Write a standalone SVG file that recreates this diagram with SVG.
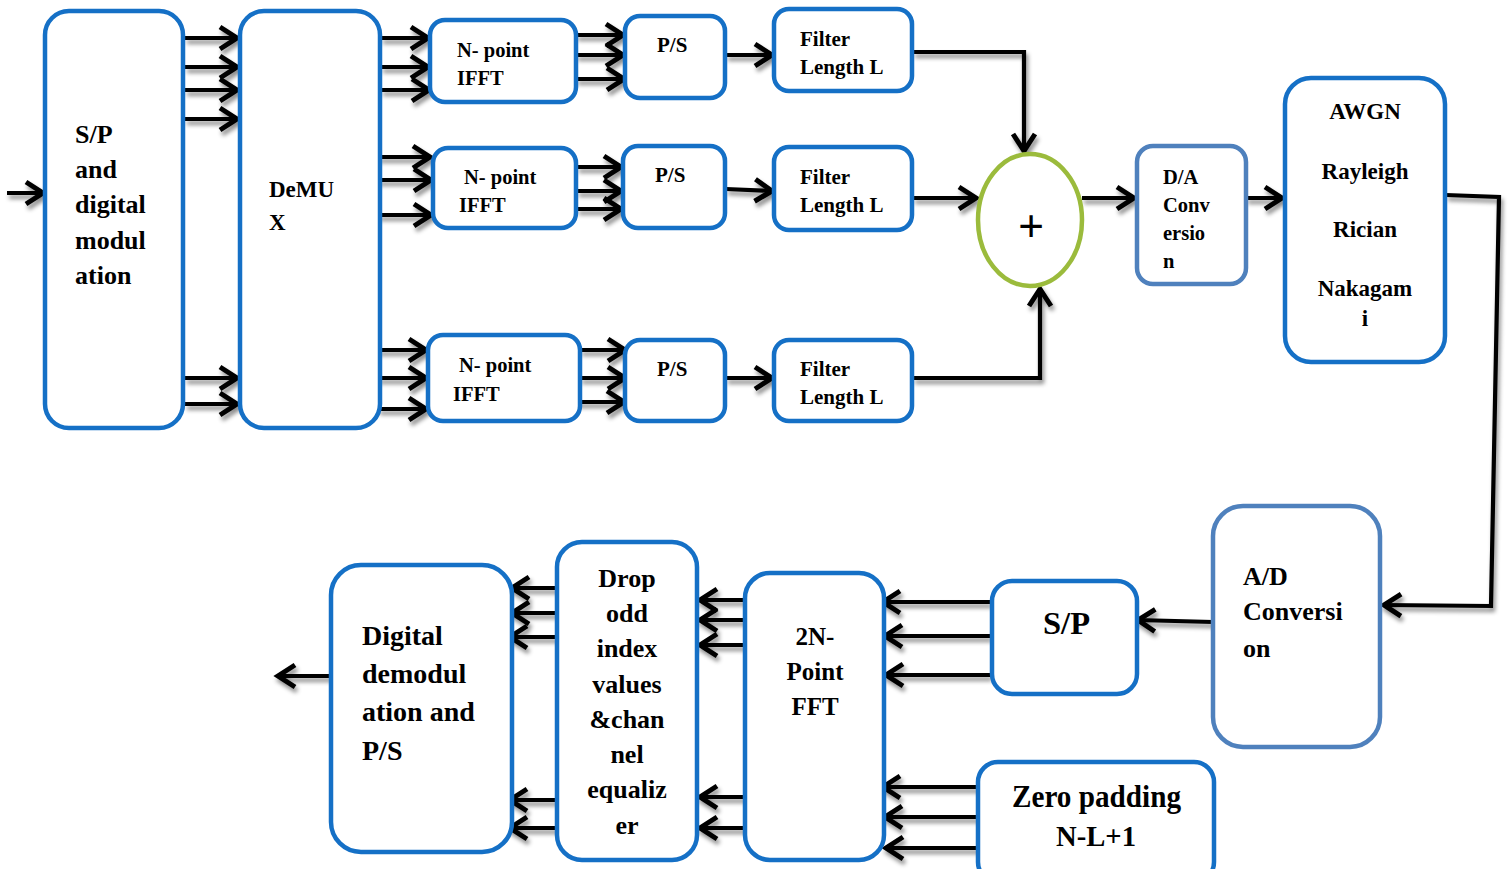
<svg xmlns="http://www.w3.org/2000/svg" width="1508" height="869" viewBox="0 0 1508 869">
<defs>
<style>
.b{fill:#fff;stroke:#1570c6;stroke-width:4.5}
.l{fill:#fff;stroke:#4f81bd;stroke-width:4.5}
.t{font-family:"Liberation Serif","Times New Roman",serif;font-weight:bold;fill:#000}
.c{fill:none;stroke:#000;stroke-width:4.2;marker-end:url(#a)}
</style>
<marker id="a" markerUnits="userSpaceOnUse" markerWidth="28" markerHeight="28" viewBox="-24 -14 28 28" refX="0" refY="0" orient="auto">
<path d="M-18,-11 L-1,0 L-18,11" fill="none" stroke="#000" stroke-width="5"/>
</marker>
<filter id="sh" x="-10%" y="-10%" width="120%" height="120%">
<feDropShadow dx="2" dy="4" stdDeviation="2" flood-color="#000" flood-opacity="0.45"/>
</filter>
</defs>
<rect width="1508" height="869" fill="#fff"/>

<g id="connectors" filter="url(#sh)">
<path class="c" d="M7,193 H44"/>
<path class="c" d="M185,38 H238"/>
<path class="c" d="M185,67 H238"/>
<path class="c" d="M185,90 H238"/>
<path class="c" d="M185,119 H238"/>
<path class="c" d="M185,378 H238"/>
<path class="c" d="M185,404 H238"/>
<path class="c" d="M381,38 H429"/>
<path class="c" d="M381,67 H429"/>
<path class="c" d="M381,90 H430"/>
<path class="c" d="M378,157 H431"/>
<path class="c" d="M378,180 H432"/>
<path class="c" d="M378,215 H432"/>
<path class="c" d="M378,350 H427"/>
<path class="c" d="M378,378 H427"/>
<path class="c" d="M378,409 H427"/>
<path class="c" d="M576,35 H624"/>
<path class="c" d="M576,55 H624"/>
<path class="c" d="M576,79 H625"/>
<path class="c" d="M577,167 H622"/>
<path class="c" d="M577,191 H622"/>
<path class="c" d="M577,209 H622"/>
<path class="c" d="M580,350 H626"/>
<path class="c" d="M580,378 H626"/>
<path class="c" d="M577,402 H625"/>
<path class="c" d="M726,55 H773"/>
<path class="c" d="M726,189 L773,191"/>
<path class="c" d="M726,378 H773"/>
<path class="c" d="M913,52 H1024 V152"/>
<path class="c" d="M913,198 H977"/>
<path class="c" d="M913,378 H1040 V288"/>
<path class="c" d="M1082,198 H1135"/>
<path class="c" d="M1246,198 H1283"/>
<path class="c" d="M1446,195 L1499,197 L1491,606 L1383,605"/>
<path class="c" d="M1213,622 L1137,620"/>
<path class="c" d="M990,602 H882"/>
<path class="c" d="M990,636 H884"/>
<path class="c" d="M990,675 H885"/>
<path class="c" d="M978,787 H882"/>
<path class="c" d="M978,817 H884"/>
<path class="c" d="M978,848 H885"/>
<path class="c" d="M745,600 H699"/>
<path class="c" d="M745,620 H699"/>
<path class="c" d="M745,645 H699"/>
<path class="c" d="M745,797 H699"/>
<path class="c" d="M745,828 H699"/>
<path class="c" d="M557,588 H511"/>
<path class="c" d="M557,613 H511"/>
<path class="c" d="M557,637 H509"/>
<path class="c" d="M557,800 H509"/>
<path class="c" d="M557,828 H509"/>
<path class="c" d="M331,676 H277"/>
</g>

<g id="sp_mod">
<rect class="b" x="45" y="11" width="138" height="417" rx="24"/>
<text class="t" font-size="26"><tspan x="75" y="143">S/P</tspan><tspan x="75" y="178">and</tspan><tspan x="75" y="213">digital</tspan><tspan x="75" y="249">modul</tspan><tspan x="75" y="284">ation</tspan></text>
</g>
<g id="demux">
<rect class="b" x="240" y="11" width="140" height="417" rx="24"/>
<text class="t" font-size="23"><tspan x="269" y="197">DeMU</tspan><tspan x="269" y="230">X</tspan></text>
</g>
<g id="ifft1">
<rect class="b" x="430" y="20" width="146" height="82" rx="15"/>
<text class="t" font-size="20.5"><tspan x="457" y="57">N- point</tspan><tspan x="457" y="85">IFFT</tspan></text>
</g>
<g id="ps1">
<rect class="b" x="625" y="16" width="100" height="82" rx="15"/>
<text class="t" font-size="21" x="657" y="52">P/S</text>
</g>
<g id="filter1">
<rect class="b" x="774" y="9" width="138" height="82" rx="15"/>
<text class="t" font-size="21"><tspan x="800" y="46">Filter</tspan><tspan x="800" y="74">Length L</tspan></text>
</g>
<g id="ifft2">
<rect class="b" x="433" y="148" width="143" height="80" rx="15"/>
<text class="t" font-size="20.5"><tspan x="464" y="184">N- point</tspan><tspan x="459" y="212">IFFT</tspan></text>
</g>
<g id="ps2">
<rect class="b" x="623" y="146" width="102" height="82" rx="15"/>
<text class="t" font-size="21" x="655" y="182">P/S</text>
</g>
<g id="filter2">
<rect class="b" x="774" y="147" width="138" height="83" rx="15"/>
<text class="t" font-size="21"><tspan x="800" y="184">Filter</tspan><tspan x="800" y="212">Length L</tspan></text>
</g>
<g id="ifft3">
<rect class="b" x="428" y="335" width="152" height="86" rx="15"/>
<text class="t" font-size="20.5"><tspan x="459" y="372">N- point</tspan><tspan x="453" y="401">IFFT</tspan></text>
</g>
<g id="ps3">
<rect class="b" x="625" y="340" width="100" height="81" rx="15"/>
<text class="t" font-size="21" x="657" y="376">P/S</text>
</g>
<g id="filter3">
<rect class="b" x="774" y="340" width="138" height="81" rx="15"/>
<text class="t" font-size="21"><tspan x="800" y="376">Filter</tspan><tspan x="800" y="404">Length L</tspan></text>
</g>
<g id="adder">
<ellipse cx="1030" cy="220" rx="52" ry="66" fill="#fff" stroke="#9bbb3c" stroke-width="4.5"/>
<text x="1031" y="241" font-family="Liberation Sans, Arial, sans-serif" font-size="44" text-anchor="middle" fill="#000">+</text>
</g>
<g id="da">
<rect class="l" x="1137" y="146" width="109" height="138" rx="16"/>
<text class="t" font-size="20.5"><tspan x="1163" y="184">D/A</tspan><tspan x="1163" y="212">Conv</tspan><tspan x="1163" y="240">ersio</tspan><tspan x="1163" y="268">n</tspan></text>
</g>
<g id="channel">
<rect class="b" x="1285" y="78" width="160" height="284" rx="26"/>
<text class="t" font-size="23" text-anchor="middle"><tspan x="1365" y="119">AWGN</tspan><tspan x="1365" y="179">Rayleigh</tspan><tspan x="1365" y="237">Rician</tspan><tspan x="1365" y="296">Nakagam</tspan><tspan x="1365" y="326">i</tspan></text>
</g>
<g id="ad">
<rect class="l" x="1213" y="506" width="167" height="241" rx="30"/>
<text class="t" font-size="26"><tspan x="1243" y="585">A/D</tspan><tspan x="1243" y="620">Conversi</tspan><tspan x="1243" y="657">on</tspan></text>
</g>
<g id="sp_rx">
<rect class="b" x="992" y="581" width="145" height="113" rx="20"/>
<text class="t" font-size="32" x="1043" y="634" textLength="47" lengthAdjust="spacingAndGlyphs">S/P</text>
</g>
<g id="zeropad">
<rect class="b" x="978" y="762" width="236" height="120" rx="20"/>
<text class="t" font-size="31" x="1012" y="807" textLength="169" lengthAdjust="spacingAndGlyphs">Zero padding</text>
<text class="t" font-size="30" x="1056" y="846" textLength="80" lengthAdjust="spacingAndGlyphs">N-L+1</text>
</g>
<g id="fft">
<rect class="b" x="745" y="573" width="139" height="287" rx="25"/>
<text class="t" font-size="25" text-anchor="middle"><tspan x="815" y="645">2N-</tspan><tspan x="815" y="680">Point</tspan><tspan x="815" y="715">FFT</tspan></text>
</g>
<g id="drop">
<rect class="b" x="557" y="542" width="140" height="318" rx="25"/>
<text class="t" font-size="26" text-anchor="middle"><tspan x="627" y="587">Drop</tspan><tspan x="627" y="622">odd</tspan><tspan x="627" y="657">index</tspan><tspan x="627" y="693">values</tspan><tspan x="627" y="728">&amp;chan</tspan><tspan x="627" y="763">nel</tspan><tspan x="627" y="798">equaliz</tspan><tspan x="627" y="834">er</tspan></text>
</g>
<g id="demod">
<rect class="b" x="331" y="565" width="181" height="287" rx="30"/>
<text class="t" font-size="28"><tspan x="362" y="645">Digital</tspan><tspan x="362" y="683">demodul</tspan><tspan x="362" y="721">ation and</tspan><tspan x="362" y="760">P/S</tspan></text>
</g>
</svg>
